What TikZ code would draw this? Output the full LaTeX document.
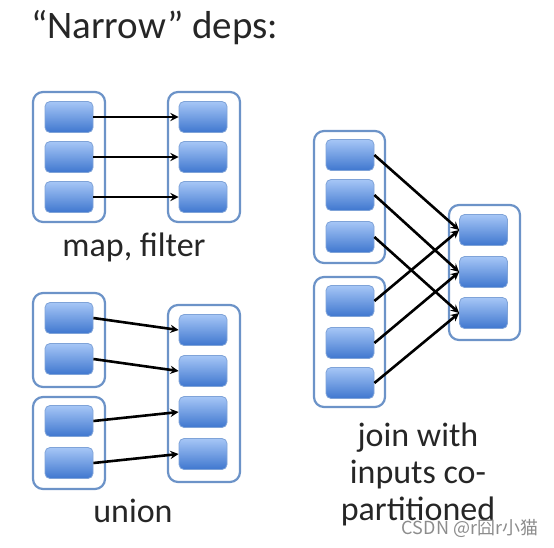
\documentclass[tikz,border=0pt]{standalone}
\usepackage{fontspec}
\setmainfont{Carlito}
\newfontfamily\cjk{Noto Sans CJK SC}
\usepackage{tikz}
\usetikzlibrary{positioning,shapes,arrows}

\definecolor{rddline}{HTML}{6C93C8}
\definecolor{parttop}{HTML}{A6C6F6}
\definecolor{partbot}{HTML}{3F77CF}
\definecolor{partline}{HTML}{7FA3D8}

\begin{document}
\begin{tikzpicture}[
    x=1pt, y=-1pt,
    part/.style={rectangle, draw=partline, line width=0.8pt, rounded corners=5pt, top color=parttop, bottom color=partbot, minimum width=48pt, minimum height=31pt, inner sep=0pt},
    rdd/.style={rectangle, draw=rddline, line width=2.2pt, rounded corners=10pt, fill=white, minimum width=72pt, inner sep=0pt},
    dep/.style={->, >=stealth, line width=2.6pt, black},
    lbl/.style={font=\fontsize{34}{37}\selectfont, text=black!85, align=center}
]
    \useasboundingbox (0,0) rectangle (554,547);

    % title
    \node[lbl, font=\fontsize{39}{44}\selectfont, anchor=west, inner sep=0pt] (title) at (31,28) {``Narrow'' deps:};

    % map, filter
    \node[rdd, minimum height=130pt] (mapin) at (69,157) {};
    \node[rdd, minimum height=130pt] (mapout) at (204,157) {};
    \node[part] (mi1) at (69,117) {};
    \node[part] (mi2) at (69,157) {};
    \node[part] (mi3) at (69,197) {};
    \node[part] (mo1) at (203,117) {};
    \node[part] (mo2) at (203,157) {};
    \node[part] (mo3) at (203,197) {};
    \draw[dep] (mi1.east) -- (mo1.west);
    \draw[dep] (mi2.east) -- (mo2.west);
    \draw[dep] (mi3.east) -- (mo3.west);
    \node[lbl] (maplbl) at (134,247) {map, filter};

    % union
    \node[rdd, minimum height=94pt] (unina) at (69,340) {};
    \node[rdd, minimum height=92pt] (uninb) at (69,443) {};
    \node[rdd, minimum height=177pt] (unout) at (204,393.5) {};
    \node[part] (ua1) at (69,318) {};
    \node[part] (ua2) at (69,359) {};
    \node[part] (ub1) at (69,421) {};
    \node[part] (ub2) at (69,463) {};
    \node[part] (uo1) at (203,330) {};
    \node[part] (uo2) at (203,371) {};
    \node[part] (uo3) at (203,412) {};
    \node[part] (uo4) at (203,454) {};
    \draw[dep] (ua1.east) -- (uo1.west);
    \draw[dep] (ua2.east) -- (uo2.west);
    \draw[dep] (ub1.east) -- (uo3.west);
    \draw[dep] (ub2.east) -- (uo4.west);
    \node[lbl] (unlbl) at (133,511) {union};

    % join with co-partitioned inputs
    \node[rdd, minimum width=71pt, minimum height=132pt] (joina) at (349.5,197) {};
    \node[rdd, minimum width=71pt, minimum height=130pt] (joinb) at (349.5,342) {};
    \node[rdd, minimum width=71pt, minimum height=135pt] (joinout) at (484.5,272.5) {};
    \node[part] (ja1) at (350,155) {};
    \node[part] (ja2) at (350,195) {};
    \node[part] (ja3) at (350,237) {};
    \node[part] (jb1) at (350,301) {};
    \node[part] (jb2) at (350,343) {};
    \node[part] (jb3) at (350,383) {};
    \node[part] (jo1) at (483.5,230) {};
    \node[part] (jo2) at (483.5,272) {};
    \node[part] (jo3) at (483.5,313) {};
    \draw[dep] (ja1.east) -- (jo1.west);
    \draw[dep] (ja2.east) -- (jo2.west);
    \draw[dep] (ja3.east) -- (jo3.west);
    \draw[dep] (jb1.east) -- (jo1.west);
    \draw[dep] (jb2.east) -- (jo2.west);
    \draw[dep] (jb3.east) -- (jo3.west);
    \node[lbl] (joinlbl) at (418,474) {join with\\inputs co-\\partitioned};

    % watermark
    \node[font=\cjk\fontsize{18}{20}\selectfont, text=black!45] (mark) at (470,528) {CSDN @r囧r小猫};
\end{tikzpicture}
\end{document}
